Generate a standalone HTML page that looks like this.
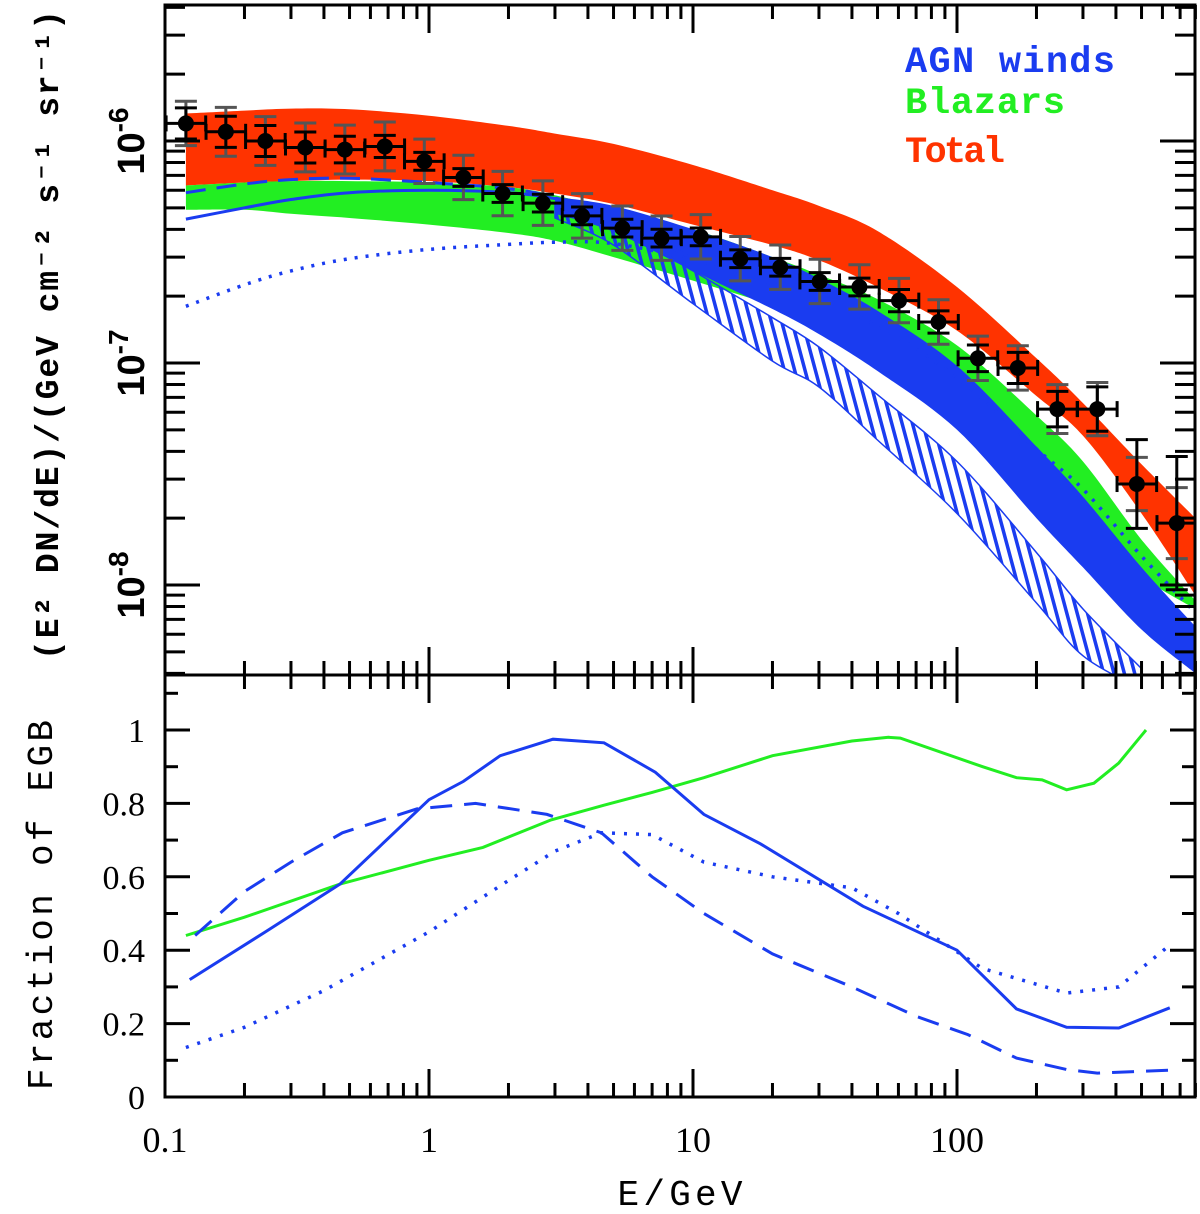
<!DOCTYPE html>
<html><head><meta charset="utf-8"><style>
html,body{margin:0;padding:0;background:#fff;}
svg{display:block;}
</style></head><body>
<svg id="chart" width="1200" height="1214" viewBox="0 0 1200 1214" xmlns="http://www.w3.org/2000/svg">
<defs>
<pattern id="hatch" patternUnits="userSpaceOnUse" width="10" height="10" patternTransform="rotate(-15)">
<rect x="0" y="0" width="3.5" height="10" fill="#1a3cf0"/>
</pattern>
<clipPath id="clipTop"><rect x="165" y="5" width="1030" height="670"/></clipPath>
<clipPath id="clipBot"><rect x="165" y="675" width="1030" height="422"/></clipPath>
</defs>
<g id="topPanel" clip-path="url(#clipTop)"></g>
<g id="botPanel" clip-path="url(#clipBot)"></g>
<g id="axesGroup"></g>
<text x="905" y="72" font-family="Liberation Mono, monospace" font-weight="bold" font-size="37" fill="#1a3cf0" textLength="210">AGN winds</text>
<text x="905" y="113" font-family="Liberation Mono, monospace" font-weight="bold" font-size="37" fill="#22ee22" textLength="160">Blazars</text>
<text x="905" y="162" font-family="Liberation Mono, monospace" font-weight="bold" font-size="37" fill="#ff3300" textLength="100">Total</text>
<text transform="translate(58,335) rotate(-90)" text-anchor="middle" font-family="Liberation Mono, monospace" font-weight="bold" font-size="33" fill="#000" textLength="650">(E² DN/dE)/(GeV cm⁻² s⁻¹ sr⁻¹)</text>
<text transform="translate(52,905) rotate(-90)" text-anchor="middle" font-family="Liberation Mono, monospace" font-size="36" fill="#000" textLength="370">Fraction of EGB</text>
<text x="680" y="1205" text-anchor="middle" font-family="Liberation Mono, monospace" font-size="36" fill="#000" textLength="125">E/GeV</text>
</svg>
<script>
const dataE = [0.12,0.17,0.24,0.34,0.48,0.68,0.96,1.35,1.9,2.7,3.8,5.4,7.6,10.7,15.1,21.4,30.2,42.7,60.3,85.1,120,170,240,340,480,680];
const dataFlux = [1.2e-6,1.1e-6,1.0e-6,9.35e-7,9.15e-7,9.45e-7,8.1e-7,6.85e-7,5.8e-7,5.25e-7,4.6e-7,4.05e-7,3.65e-7,3.7e-7,2.95e-7,2.7e-7,2.33e-7,2.2e-7,1.91e-7,1.53e-7,1.05e-7,9.5e-8,6.2e-8,6.2e-8,2.85e-8,1.9e-8];
const errBlack = [0.07,0.07,0.07,0.07,0.06,0.05,0.04,0.04,0.04,0.04,0.04,0.04,0.04,0.04,0.04,0.04,0.04,0.04,0.05,0.05,0.06,0.07,0.08,0.1,0.2,0.3];
const errGrey = [0.1,0.11,0.11,0.11,0.11,0.11,0.1,0.1,0.1,0.1,0.1,0.1,0.1,0.1,0.1,0.1,0.1,0.1,0.1,0.1,0.1,0.1,0.11,0.12,0.12,0.16];

const bandE = [0.12,0.2,0.3,0.5,1,2,3,5,10,20,30,50,100,200,300,500,800];
const totalHi = [1.33e-6,1.37e-6,1.40e-6,1.39e-6,1.30e-6,1.17e-6,1.08e-6,9.7e-7,7.8e-7,6.0e-7,5.1e-7,3.93e-7,2.2e-7,1.05e-7,6.6e-8,3.5e-8,2.0e-8];
const totalLo = [6.3e-7,6.5e-7,6.6e-7,6.7e-7,6.6e-7,6.2e-7,5.8e-7,5.2e-7,4.2e-7,3.4e-7,2.9e-7,2.2e-7,1.4e-7,7.1e-8,4.7e-8,2.1e-8,9.0e-9];
const blazHi = [6.3e-7,6.5e-7,6.6e-7,6.6e-7,6.5e-7,6.2e-7,5.7e-7,4.9e-7,4.0e-7,3.0e-7,2.5e-7,1.94e-7,1.2e-7,5.8e-8,3.6e-8,1.6e-8,8.5e-9];
const blazLo = [4.9e-7,4.9e-7,4.7e-7,4.5e-7,4.2e-7,3.85e-7,3.55e-7,3.0e-7,2.35e-7,1.82e-7,1.5e-7,1.13e-7,6.3e-8,3.0e-8,1.98e-8,1.1e-8,7.8e-9];

const windE = [3,5,10,20,30,50,100,200,300,500,800];
const windHi = [5.6e-7,5.1e-7,4.0e-7,3.0e-7,2.4e-7,1.72e-7,9.7e-8,4.2e-8,2.5e-8,1.2e-8,6.5e-9];
const windLo = [4.7e-7,3.9e-7,2.6e-7,1.75e-7,1.35e-7,9.2e-8,5.0e-8,2.0e-8,1.2e-8,6.3e-9,4.0e-9];
const hatchE = [3,5,10,20,30,50,100,200,300,500];
const hatchHi = [5.2e-7,4.2e-7,2.6e-7,1.6e-7,1.18e-7,7.2e-8,3.6e-8,1.4e-8,7.8e-9,4.2e-9];
const hatchLo = [4.5e-7,3.4e-7,1.85e-7,1.02e-7,7.8e-8,4.5e-8,2.1e-8,8.3e-9,4.8e-9,3.4e-9];

const topSolidE = [0.12,0.2,0.3,0.5,1,2,3,5];
const topSolidV = [4.45e-7,5.0e-7,5.45e-7,5.85e-7,6.0e-7,5.85e-7,5.5e-7,4.85e-7];
const topDashE = [0.12,0.2,0.3,0.5,1,2,3,5,10];
const topDashV = [5.85e-7,6.4e-7,6.7e-7,6.8e-7,6.5e-7,6.1e-7,5.55e-7,4.45e-7,2.95e-7];
const topDotE = [0.12,0.2,0.3,0.5,1,2,3,5,10,20,30,50,100,200,300,500,800];
const topDotV = [1.8e-7,2.25e-7,2.6e-7,2.95e-7,3.25e-7,3.42e-7,3.5e-7,3.45e-7,2.9e-7,2.2e-7,1.9e-7,1.47e-7,8.6e-8,4.1e-8,2.7e-8,1.35e-8,7.5e-9];

const fracSolidE = [0.124,0.24,0.46,1.0,1.35,1.86,2.95,4.6,7.2,11,18,44,100,168,260,410,640];
const fracSolidV = [0.32,0.45,0.58,0.81,0.86,0.93,0.975,0.965,0.885,0.77,0.69,0.52,0.40,0.24,0.19,0.188,0.243];
const fracDashE = [0.13,0.2,0.3,0.47,0.9,1.5,2.8,4.5,7,11,20,40,70,110,168,260,340,640];
const fracDashV = [0.44,0.56,0.64,0.72,0.785,0.80,0.77,0.72,0.60,0.50,0.39,0.30,0.22,0.17,0.106,0.075,0.065,0.073];
const fracDotE = [0.12,0.2,0.4,1.0,2,3,4.5,7,11,20,40,60,125,260,410,640];
const fracDotV = [0.135,0.19,0.29,0.45,0.59,0.67,0.72,0.715,0.64,0.60,0.57,0.50,0.35,0.283,0.30,0.414];
const fracBlazE = [0.12,0.2,0.46,1.0,1.6,2.9,4.6,7,11,20,40,55,61,125,168,210,260,330,410,520];
const fracBlazV = [0.44,0.49,0.58,0.645,0.68,0.755,0.795,0.83,0.87,0.93,0.97,0.98,0.978,0.90,0.87,0.864,0.837,0.855,0.91,1.0];

const xTickLabels = ["0.1","1","10","100"];
const yFracLabels = ["0","0.2","0.4","0.6","0.8","1"];
const yTopLabels = ["-6","-7","-8"];

(function(){
const X0=165, X1=1195, DEC=264;
const sx = e => 429 + DEC*Math.log10(e);
const syTop = v => 141 - 222*(Math.log10(v)+6);
const syBot = f => 1097 - 367*f;
const NS='http://www.w3.org/2000/svg';
function mk(tag, attrs, parent){const el=document.createElementNS(NS,tag);for(const k in attrs)el.setAttribute(k,attrs[k]);parent.appendChild(el);return el;}
const topG=document.getElementById('topPanel'), botG=document.getElementById('botPanel'), axesG=document.getElementById('axesGroup');

function smooth(pts, start){
  let d=(start?'M':'L')+pts[0][0].toFixed(1)+','+pts[0][1].toFixed(1);
  for(let i=0;i<pts.length-1;i++){
    const p0=pts[Math.max(0,i-1)], p1=pts[i], p2=pts[i+1], p3=pts[Math.min(pts.length-1,i+2)];
    const c1=[p1[0]+(p2[0]-p0[0])/6, p1[1]+(p2[1]-p0[1])/6];
    const c2=[p2[0]-(p3[0]-p1[0])/6, p2[1]-(p3[1]-p1[1])/6];
    d+='C'+c1[0].toFixed(1)+','+c1[1].toFixed(1)+' '+c2[0].toFixed(1)+','+c2[1].toFixed(1)+' '+p2[0].toFixed(1)+','+p2[1].toFixed(1);
  }
  return d;
}
function bandPath(E,hi,lo,sy){
  const up=E.map((e,i)=>[sx(e),sy(hi[i])]);
  const dn=E.map((e,i)=>[sx(e),sy(lo[i])]).reverse();
  return smooth(up,true)+smooth(dn,false)+'Z';
}
function curvePath(E,V,sy){return smooth(E.map((e,i)=>[sx(e),sy(V[i])]),true);}
function linePath(E,V,sy){return E.map((e,i)=>(i?'L':'M')+sx(e).toFixed(1)+','+sy(V[i]).toFixed(1)).join('');}

let p;
p=mk('path',{d:bandPath(bandE,totalHi,totalLo,syTop),fill:'#ff3300'},topG);


p=mk('path',{d:bandPath(bandE,blazHi,blazLo,syTop),fill:'#22ee22'},topG);


p=mk('path',{d:bandPath(windE,windHi,windLo,syTop),fill:'#1a3cf0'},topG);


p=mk('path',{d:bandPath(hatchE,hatchHi,hatchLo,syTop),fill:'url(#hatch)',stroke:'#1a3cf0','stroke-width':1.5},topG);


p=mk('path',{d:curvePath(topSolidE,topSolidV,syTop),fill:'none',stroke:'#1a3cf0','stroke-width':3},topG);


p=mk('path',{d:curvePath(topDashE,topDashV,syTop),fill:'none',stroke:'#1a3cf0','stroke-width':3,'stroke-dasharray':'20 11'},topG);


p=mk('path',{d:curvePath(topDotE,topDotV,syTop),fill:'none',stroke:'#1a3cf0','stroke-width':3.5,'stroke-dasharray':'3 8'},topG);



dataE.forEach((e,i)=>{
  const g=mk('g',{},topG);
  
  
  const x=sx(e), y=syTop(dataFlux[i]);
  const gy0=syTop(dataFlux[i]*Math.pow(10,errGrey[i])), gy1=syTop(dataFlux[i]/Math.pow(10,errGrey[i]));
  const by0=syTop(dataFlux[i]*Math.pow(10,errBlack[i])), by1=syTop(dataFlux[i]/Math.pow(10,errBlack[i]));
  mk('line',{x1:x,x2:x,y1:gy0,y2:gy1,stroke:'#555','stroke-width':3},g);
  mk('line',{x1:x-11,x2:x+11,y1:gy0,y2:gy0,stroke:'#555','stroke-width':3},g);
  mk('line',{x1:x-11,x2:x+11,y1:gy1,y2:gy1,stroke:'#555','stroke-width':3},g);
  mk('line',{x1:x,x2:x,y1:by0,y2:by1,stroke:'#000','stroke-width':3},g);
  mk('line',{x1:x-11,x2:x+11,y1:by0,y2:by0,stroke:'#000','stroke-width':3},g);
  mk('line',{x1:x-11,x2:x+11,y1:by1,y2:by1,stroke:'#000','stroke-width':3},g);
  const xl=sx(e/Math.pow(10,0.075)), xr=sx(e*Math.pow(10,0.075));
  mk('line',{x1:xl,x2:xr,y1:y,y2:y,stroke:'#000','stroke-width':3},g);
  mk('line',{x1:xl,x2:xl,y1:y-8,y2:y+8,stroke:'#000','stroke-width':3},g);
  mk('line',{x1:xr,x2:xr,y1:y-8,y2:y+8,stroke:'#000','stroke-width':3},g);
  mk('circle',{cx:x,cy:y,r:8,fill:'#000'},g);
});

p=mk('path',{d:linePath(fracBlazE,fracBlazV,syBot),fill:'none',stroke:'#22ee22','stroke-width':3},botG);


p=mk('path',{d:linePath(fracSolidE,fracSolidV,syBot),fill:'none',stroke:'#1a3cf0','stroke-width':3},botG);


p=mk('path',{d:linePath(fracDashE,fracDashV,syBot),fill:'none',stroke:'#1a3cf0','stroke-width':3,'stroke-dasharray':'22 12'},botG);


p=mk('path',{d:linePath(fracDotE,fracDotV,syBot),fill:'none',stroke:'#1a3cf0','stroke-width':3.5,'stroke-dasharray':'3 9'},botG);



p=mk('rect',{x:X0,y:5,width:X1-X0,height:670,fill:'none',stroke:'#000','stroke-width':3},axesG);


p=mk('rect',{x:X0,y:675,width:X1-X0,height:422,fill:'none',stroke:'#000','stroke-width':3},axesG);



const tickG=mk('g',{stroke:'#000','stroke-width':3},axesG);


for(let d=-1; d<=2; d++){
  for(let m=1;m<=9;m++){
    const e=m*Math.pow(10,d), x=sx(e);
    if(x<X0-1||x>X1+1) continue;
    const L=(m===1)?28:14;
    [5,675,1097].forEach(yb=>{
      if(yb!==1097) mk('line',{x1:x,x2:x,y1:yb,y2:yb+L},tickG);
      if(yb!==5) mk('line',{x1:x,x2:x,y1:yb,y2:yb-L},tickG);
    });
  }
}
for(let d=-9; d<=-5; d++){
  for(let m=1;m<=9;m++){
    const v=m*Math.pow(10,d), y=syTop(v);
    if(y<5||y>675) continue;
    const L=(m===1)?35:20;
    mk('line',{x1:X0,x2:X0+L,y1:y,y2:y},tickG);
    mk('line',{x1:X1,x2:X1-L,y1:y,y2:y},tickG);
  }
}
for(let k=0;k<=11;k++){
  const y=syBot(k*0.1), L=(k%2===0)?25:13;
  mk('line',{x1:X0,x2:X0+L,y1:y,y2:y},tickG);
  mk('line',{x1:X1,x2:X1-L,y1:y,y2:y},tickG);
}
xTickLabels.forEach((t,i)=>{
  const el=mk('text',{x:sx(Math.pow(10,i-1)),y:1152,'text-anchor':'middle','font-family':'Liberation Serif, serif','font-size':36,fill:'#000'},axesG);
  el.textContent=t;
  
  
});
yFracLabels.forEach((t,i)=>{
  const el=mk('text',{x:145,y:syBot(i*0.2)+12,'text-anchor':'end','font-family':'Liberation Serif, serif','font-size':34,fill:'#000'},axesG);
  el.textContent=t;
  
  
});
yTopLabels.forEach((t,i)=>{
  const y=syTop(Math.pow(10,-6-i));
  const el=mk('text',{transform:'translate(144,'+y+') rotate(-90)','text-anchor':'middle','font-family':'Liberation Sans, sans-serif','font-weight':'bold','font-size':38,fill:'#000'},axesG);
  el.textContent='10';
  const ts=mk('tspan',{dy:-16,'font-size':28},el);
  ts.textContent=t;
  
  
});
})();
</script>
</body></html>
